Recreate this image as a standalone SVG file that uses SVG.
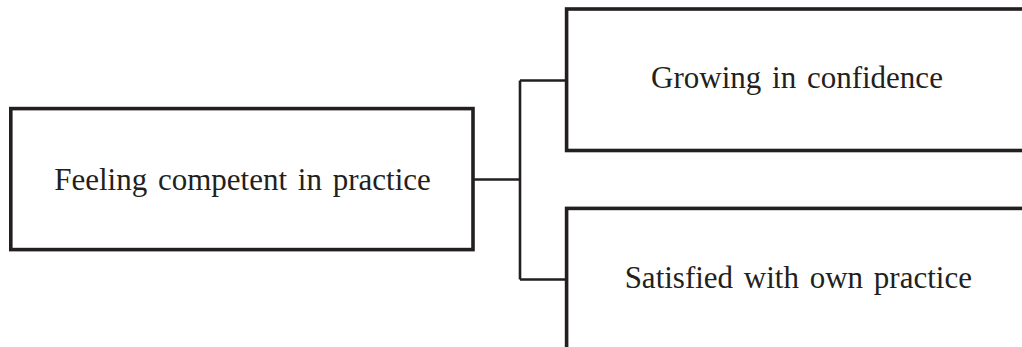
<svg xmlns="http://www.w3.org/2000/svg" width="1022" height="347" viewBox="0 0 1022 347">
  <style>
    .box { fill: #ffffff; stroke: #231f20; stroke-width: 3.6; }
    .link { fill: none; stroke: #231f20; stroke-width: 2.6; }
    .label { font-family: "Liberation Serif", "Times New Roman", serif; font-size: 31px; word-spacing: 3px; fill: #231f20; text-anchor: middle; }
  </style>
  <rect width="1022" height="347" fill="#ffffff"/>
  <g id="connectors">
    <path class="link" d="M473 179.5 H520 M520 80.5 V279.5 M520 80.5 H566 M520 279.5 H566"/>
  </g>
  <g id="node-competent">
    <rect class="box" x="10.8" y="108.6" width="462.2" height="141"/>
    <text class="label" x="242.5" y="189.5">Feeling competent in practice</text>
  </g>
  <g id="node-confidence">
    <rect class="box" x="566.6" y="9" width="480" height="141.5"/>
    <text class="label" x="797" y="88.3">Growing in confidence</text>
  </g>
  <g id="node-satisfied">
    <rect class="box" x="566.6" y="208.4" width="480" height="160"/>
    <text class="label" x="798.3" y="287.7">Satisfied with own practice</text>
  </g>
</svg>
